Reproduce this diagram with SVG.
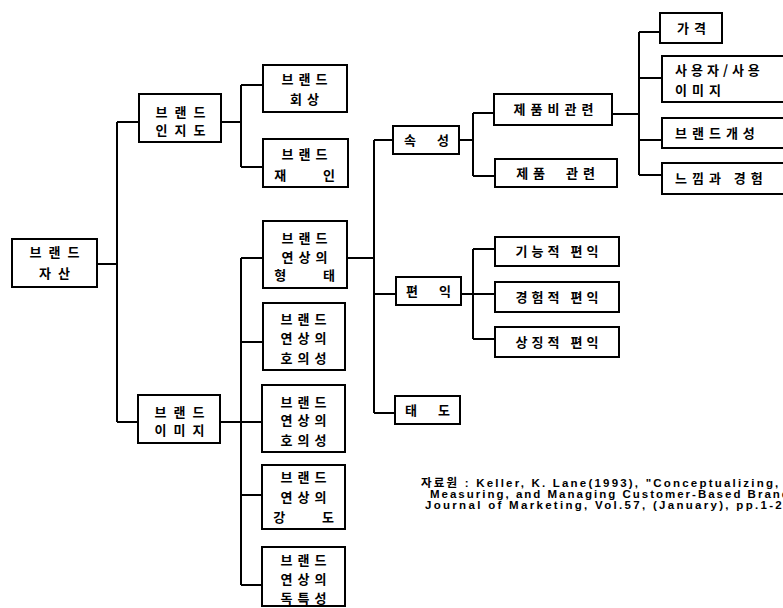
<svg xmlns="http://www.w3.org/2000/svg" width="783" height="608" viewBox="0 0 783 608">
<style>
  .box { fill: #fff; stroke: #000; stroke-width: 2; }
  .t { font-family: "Noto Sans CJK KR", "Noto Sans", sans-serif; font-weight: bold; font-size: 13px; letter-spacing: 5px; fill: #000; text-anchor: middle; white-space: pre; }
  .tw { letter-spacing: 7px; }
  .tl { text-anchor: start; }
  .c { fill: none; stroke: #000; stroke-width: 2; }
  .cite { font-family: "Liberation Sans", "Noto Sans CJK KR", sans-serif; font-weight: bold; font-size: 11.5px; fill: #000; white-space: pre; }
</style>
<rect width="783" height="608" fill="#fff"/>
<g id="connectors">
  <path class="c" d="M97,264 H117 M117,122 V422 M117,122 H139 M117,422 H138"/>
  <path class="c" d="M221,122 H241 M241,85 V167 M241,85 H263 M241,167 H263"/>
  <path class="c" d="M220,422 H262 M241,258 V585 M241,258 H263 M241,342 H263 M241,495 H262 M241,585 H262"/>
  <path class="c" d="M347,258 H374 M374,140 V413 M374,140 H393 M374,294 H396 M374,413 H395"/>
  <path class="c" d="M459,140 H473 M473,113 V176 M473,113 H494 M473,176 H495"/>
  <path class="c" d="M461,294 H495 M473,249 V339 M473,249 H495 M473,339 H495"/>
  <path class="c" d="M612,114 H639 M639,32 V175 M639,32 H660 M639,78 H662 M639,140 H662 M639,175 H662"/>
</g>
<g id="n-equity"><rect class="box" x="12" y="239" width="85" height="48"/><text class="t tw" x="58" y="257">브랜드</text><text class="t tw" x="58" y="278">자산</text></g>
<g id="n-awareness"><rect class="box" x="139" y="94" width="82" height="48"/><text class="t tw" x="184" y="117">브랜드</text><text class="t tw" x="184" y="135">인지도</text></g>
<g id="n-recall"><rect class="box" x="263" y="65" width="84" height="47"/><text class="t" x="307" y="84">브랜드</text><text class="t" x="307" y="104">회상</text></g>
<g id="n-recognition"><rect class="box" x="263" y="139" width="85" height="48"/><text class="t" x="307" y="159">브랜드</text><text class="t" x="307" y="180">재    인</text></g>
<g id="n-image"><rect class="box" x="138" y="395" width="82" height="48"/><text class="t tw" x="183" y="417">브랜드</text><text class="t tw" x="183" y="435">이미지</text></g>
<g id="n-type"><rect class="box" x="263" y="221" width="84" height="67"/><text class="t" x="307" y="243">브랜드</text><text class="t" x="307" y="262">연상의</text><text class="t" x="307" y="280">형    태</text></g>
<g id="n-fav1"><rect class="box" x="263" y="303" width="82" height="67"/><text class="t" x="306" y="324">브랜드</text><text class="t" x="306" y="343">연상의</text><text class="t" x="306" y="363">호의성</text></g>
<g id="n-fav2"><rect class="box" x="262" y="385" width="83" height="67"/><text class="t" x="306" y="407">브랜드</text><text class="t" x="306" y="425">연상의</text><text class="t" x="306" y="445">호의성</text></g>
<g id="n-strength"><rect class="box" x="262" y="465" width="83" height="64"/><text class="t" x="306" y="482">브랜드</text><text class="t" x="306" y="502">연상의</text><text class="t" x="306" y="522">강    도</text></g>
<g id="n-unique"><rect class="box" x="262" y="547" width="83" height="59"/><text class="t" x="306" y="565">브랜드</text><text class="t" x="306" y="584">연상의</text><text class="t" x="306" y="603">독특성</text></g>
<g id="n-attr"><rect class="box" x="393" y="126" width="66" height="28"/><text class="t" x="429" y="145">속  성</text></g>
<g id="n-benefit"><rect class="box" x="396" y="277" width="65" height="28"/><text class="t" x="431" y="296">편  익</text></g>
<g id="n-attitude"><rect class="box" x="395" y="396" width="65" height="28"/><text class="t" x="430" y="415">태  도</text></g>
<g id="n-nonproduct"><rect class="box" x="494" y="94" width="118" height="31"/><text class="t" x="556" y="114">제품비관련</text></g>
<g id="n-product"><rect class="box" x="495" y="159" width="122" height="28"/><text class="t" x="558" y="178">제품  관련</text></g>
<g id="n-functional"><rect class="box" x="495" y="237" width="124" height="29"/><text class="t" x="559" y="256" style="letter-spacing:4px">기능적 편익</text></g>
<g id="n-experiential"><rect class="box" x="495" y="282" width="124" height="30"/><text class="t" x="559" y="302" style="letter-spacing:4px">경험적 편익</text></g>
<g id="n-symbolic"><rect class="box" x="495" y="327" width="124" height="30"/><text class="t" x="559" y="347" style="letter-spacing:4px">상징적 편익</text></g>
<g id="n-price"><rect class="box" x="660" y="13" width="62" height="30"/><text class="t" x="694" y="33">가격</text></g>
<g id="n-user"><rect class="box" x="662" y="56" width="130" height="46"/><text class="t tl" x="675" y="75" style="letter-spacing:4px">사용자/사용</text><text class="t tl" x="675" y="95">이미지</text></g>
<g id="n-personality"><rect class="box" x="662" y="118" width="130" height="30"/><text class="t tl" x="675" y="138">브랜드개성</text></g>
<g id="n-feeling"><rect class="box" x="662" y="163" width="130" height="31"/><text class="t tl" x="675" y="183">느낌과 경험</text></g>
<g id="citation">
  <text class="cite" x="421" y="487" style="letter-spacing:2.2px">자료원 : Keller, K. Lane(1993), "Conceptualizing,</text>
  <text class="cite" x="430" y="498" style="letter-spacing:2.0px">Measuring, and Managing Customer-Based Brand Equity,"</text>
  <text class="cite" x="425" y="509" style="letter-spacing:2.3px">Journal of Marketing, Vol.57, (January), pp.1-22.</text>
</g>
</svg>
